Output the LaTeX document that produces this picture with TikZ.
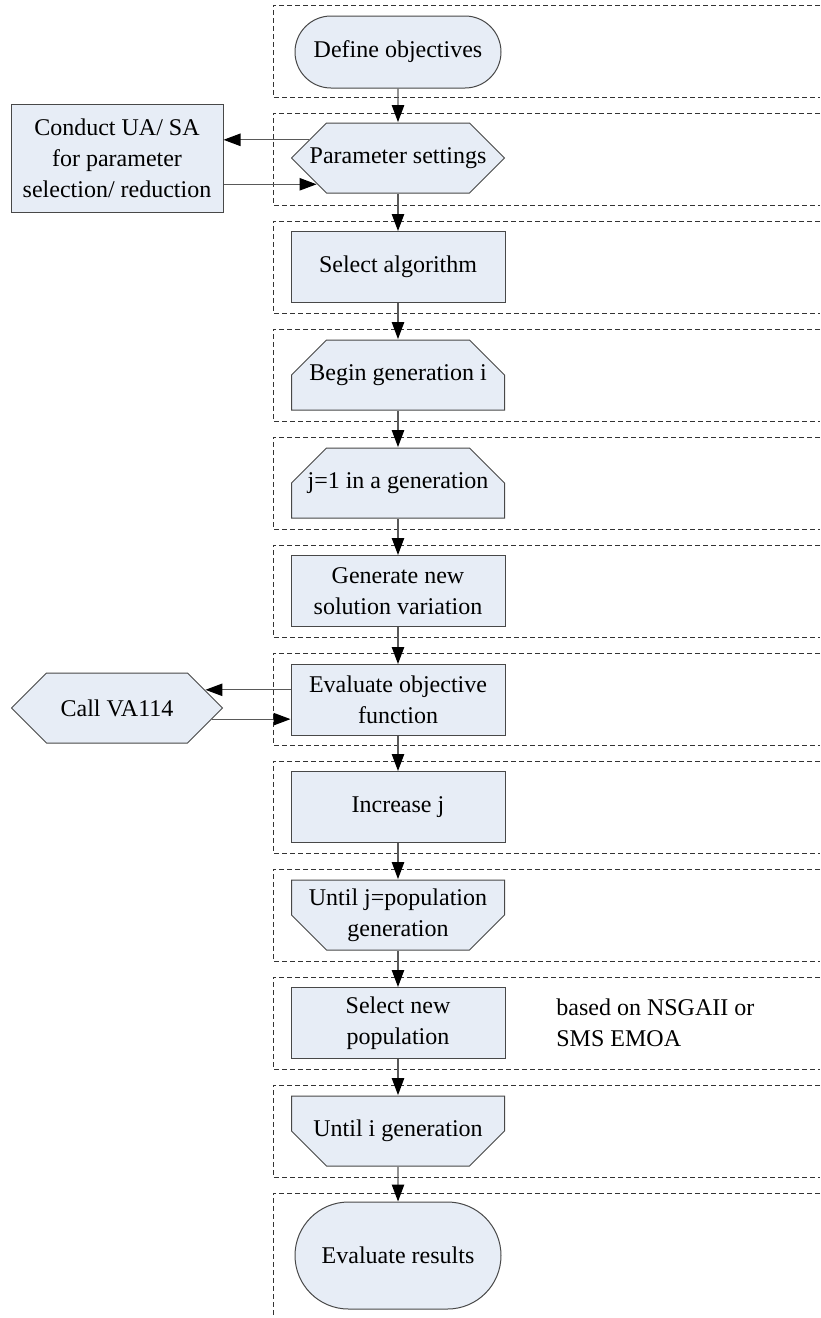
\documentclass[tikz,border=0pt]{standalone}
\usepackage{fontspec}
\setmainfont{Liberation Serif}
\usepackage{xcolor}
\usepackage{tikz}
\usetikzlibrary{shapes.misc,arrows.meta,calc}

\definecolor{boxfill}{RGB}{231,237,246}
\definecolor{boxline}{RGB}{72,72,72}

\begin{document}
\begin{tikzpicture}[x=0.5pt, y=-0.5pt,
                    every node/.style={font=\rmfamily\fontsize{12}{15.5}\selectfont},
                    outline/.style={draw=boxline, fill=boxfill, line width=0.5pt},
                    plain/.style={align=center, inner sep=2pt,
                                  minimum width=107pt, minimum height=35.5pt},
                    block/.style={plain, outline},
                    terminal/.style={block, rounded rectangle},
                    % hexagon for preparation steps
                    prep/.style={plain, path picture={
                      \draw[outline]
                        ([xshift=17.75pt,yshift=-0.25pt]path picture bounding box.north west)
                        -- ([xshift=-17.75pt,yshift=-0.25pt]path picture bounding box.north east)
                        -- ([xshift=-0.25pt]path picture bounding box.east)
                        -- ([xshift=-17.75pt,yshift=0.25pt]path picture bounding box.south east)
                        -- ([xshift=17.75pt,yshift=0.25pt]path picture bounding box.south west)
                        -- ([xshift=0.25pt]path picture bounding box.west) -- cycle;}},
                    % loop limits, cut at the top or at the bottom
                    looptop/.style={plain, path picture={
                      \draw[outline]
                        ([xshift=17.75pt,yshift=-0.25pt]path picture bounding box.north west)
                        -- ([xshift=-17.75pt,yshift=-0.25pt]path picture bounding box.north east)
                        -- ([xshift=-0.25pt,yshift=-17.75pt]path picture bounding box.north east)
                        -- ([xshift=-0.25pt,yshift=0.25pt]path picture bounding box.south east)
                        -- ([xshift=0.25pt,yshift=0.25pt]path picture bounding box.south west)
                        -- ([xshift=0.25pt,yshift=-17.75pt]path picture bounding box.north west) -- cycle;}},
                    loopbot/.style={plain, path picture={
                      \draw[outline]
                        ([xshift=0.25pt,yshift=-0.25pt]path picture bounding box.north west)
                        -- ([xshift=-0.25pt,yshift=-0.25pt]path picture bounding box.north east)
                        -- ([xshift=-0.25pt,yshift=17.75pt]path picture bounding box.south east)
                        -- ([xshift=-17.75pt,yshift=0.25pt]path picture bounding box.south east)
                        -- ([xshift=17.75pt,yshift=0.25pt]path picture bounding box.south west)
                        -- ([xshift=0.25pt,yshift=17.75pt]path picture bounding box.south west) -- cycle;}},
                    flow/.style={draw=black!65, line width=0.6pt,
                                 -{Triangle[length=8.5pt, width=6.2pt, color=black]}},
                    lane/.style={draw=black!80, line width=0.5pt, dash pattern=on 2.6pt off 1.4pt}]
  \useasboundingbox (0,0) rectangle (820,1318);

  % lanes (open on the right)
  \draw[lane] (820,5) -- (273,5) -- (273,97) -- (820,97);
  \draw[lane] (820,113) -- (273,113) -- (273,205) -- (820,205);
  \draw[lane] (820,221) -- (273,221) -- (273,313) -- (820,313);
  \draw[lane] (820,329) -- (273,329) -- (273,421) -- (820,421);
  \draw[lane] (820,437) -- (273,437) -- (273,529) -- (820,529);
  \draw[lane] (820,545) -- (273,545) -- (273,637) -- (820,637);
  \draw[lane] (820,653) -- (273,653) -- (273,745) -- (820,745);
  \draw[lane] (820,761) -- (273,761) -- (273,853) -- (820,853);
  \draw[lane] (820,869) -- (273,869) -- (273,961) -- (820,961);
  \draw[lane] (820,977) -- (273,977) -- (273,1069) -- (820,1069);
  \draw[lane] (820,1085) -- (273,1085) -- (273,1177) -- (820,1177);
  \draw[lane] (820,1193) -- (273,1193) -- (273,1318);

  % main column
  \node[terminal, minimum height=36pt] (obj) at (398,52) {Define objectives};
  \node[prep] (param) at (398,158) {Parameter settings};
  \node[block] (alg) at (398,267) {Select algorithm};
  \node[looptop] (begingen) at (398,375) {Begin generation i};
  \node[looptop] (jone) at (398,483) {j=1 in a generation};
  \node[block] (newsol) at (398,591) {Generate new\\solution variation};
  \node[block] (evalobj) at (398,700) {Evaluate objective\\function};
  \node[block] (incj) at (398,807) {Increase j};
  \node[loopbot] (untilj) at (398,915) {Until j=population\\generation};
  \node[block] (selpop) at (398,1023) {Select new\\population};
  \node[loopbot] (untili) at (398,1131) {Until i generation};
  \node[terminal, minimum height=53.5pt] (results) at (398,1255.5) {Evaluate results};

  % side nodes
  \node[block, minimum width=106pt, minimum height=54pt] (conduct) at (117,158)
    {Conduct UA/ SA\\for parameter\\selection/ reduction};
  \node[prep, minimum width=106pt] (callva) at (117,708) {Call VA114};
  \node[anchor=west, align=left, inner sep=0pt] (note) at (556,1023)
    {based on NSGAII or\\SMS EMOA};

  % ends on the slanted edges
  \coordinate (pu) at ($(param.west)!0.507!([xshift=17.75pt]param.north west)$);
  \coordinate (pl) at ($(param.west)!0.732!([xshift=17.75pt]param.south west)$);
  \coordinate (cu) at ($(callva.east)!0.507!([xshift=-17.75pt]callva.north east)$);
  \coordinate (cl) at ($(callva.east)!0.31!([xshift=-17.75pt]callva.south east)$);

  % connectors
  \draw[flow] (obj) -- (param);
  \draw[flow] (param) -- (alg);
  \draw[flow] (alg) -- (begingen);
  \draw[flow] (begingen) -- (jone);
  \draw[flow] (jone) -- (newsol);
  \draw[flow] (newsol) -- (evalobj);
  \draw[flow] (evalobj) -- (incj);
  \draw[flow] (incj) -- (untilj);
  \draw[flow] (untilj) -- (selpop);
  \draw[flow] (selpop) -- (untili);
  \draw[flow] (untili) -- (results);

  \draw[flow] (pu) -- (conduct.east |- pu);
  \draw[flow] (conduct.east |- pl) -- (pl);
  \draw[flow] (evalobj.west |- cu) -- (cu);
  \draw[flow] (cl) -- (evalobj.west |- cl);
\end{tikzpicture}
\end{document}
